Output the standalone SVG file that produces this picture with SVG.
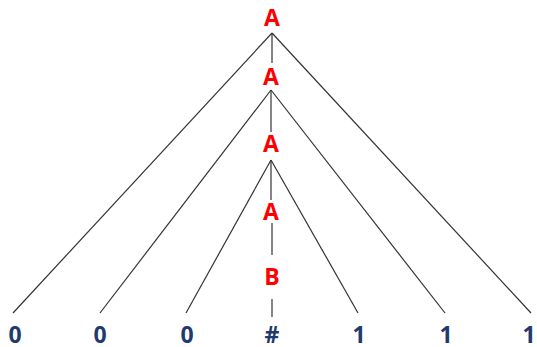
<svg xmlns="http://www.w3.org/2000/svg" width="537" height="347" viewBox="0 0 537 347">
<style>
.n{font-family:"Open Sans","Liberation Sans",sans-serif;font-weight:bold;font-size:23px;text-anchor:middle}
.r{fill:#FF0000}
.b{fill:#1F3B6E}
.e{stroke:#333;stroke-width:1.2;fill:none}
</style>
<rect width="537" height="347" fill="#fff"/>
<g id="edges">
<line class="e" x1="272" y1="33" x2="13" y2="313"/>
<line class="e" x1="272" y1="33" x2="531" y2="313"/>
<line class="e" x1="272" y1="33" x2="272" y2="63"/>
<line class="e" x1="271" y1="90" x2="100" y2="313"/>
<line class="e" x1="271" y1="90" x2="445" y2="313"/>
<line class="e" x1="271" y1="90" x2="271" y2="132"/>
<line class="e" x1="271" y1="160" x2="186" y2="313"/>
<line class="e" x1="271" y1="160" x2="358" y2="313"/>
<line class="e" x1="271" y1="160" x2="271" y2="200"/>
<line class="e" x1="272" y1="223" x2="272" y2="255"/>
<line class="e" x1="272" y1="299" x2="272" y2="317"/>
</g>
<g id="A1"><text class="n r" x="272" y="26">A</text></g>
<g id="A2"><text class="n r" x="271" y="85">A</text></g>
<g id="A3"><text class="n r" x="271" y="152">A</text></g>
<g id="A4"><text class="n r" x="271" y="220">A</text></g>
<g id="B"><text class="n r" x="272" y="285">B</text></g>
<g id="l1"><text class="n b" x="15" y="343">0</text></g>
<g id="l2"><text class="n b" x="100" y="343">0</text></g>
<g id="l3"><text class="n b" x="187" y="343">0</text></g>
<g id="l4"><text class="n b" x="272" y="343">#</text></g>
<g id="l5"><text class="n b" x="359" y="343">1</text></g>
<g id="l6"><text class="n b" x="446" y="343">1</text></g>
<g id="l7"><text class="n b" x="529" y="343">1</text></g>
</svg>
